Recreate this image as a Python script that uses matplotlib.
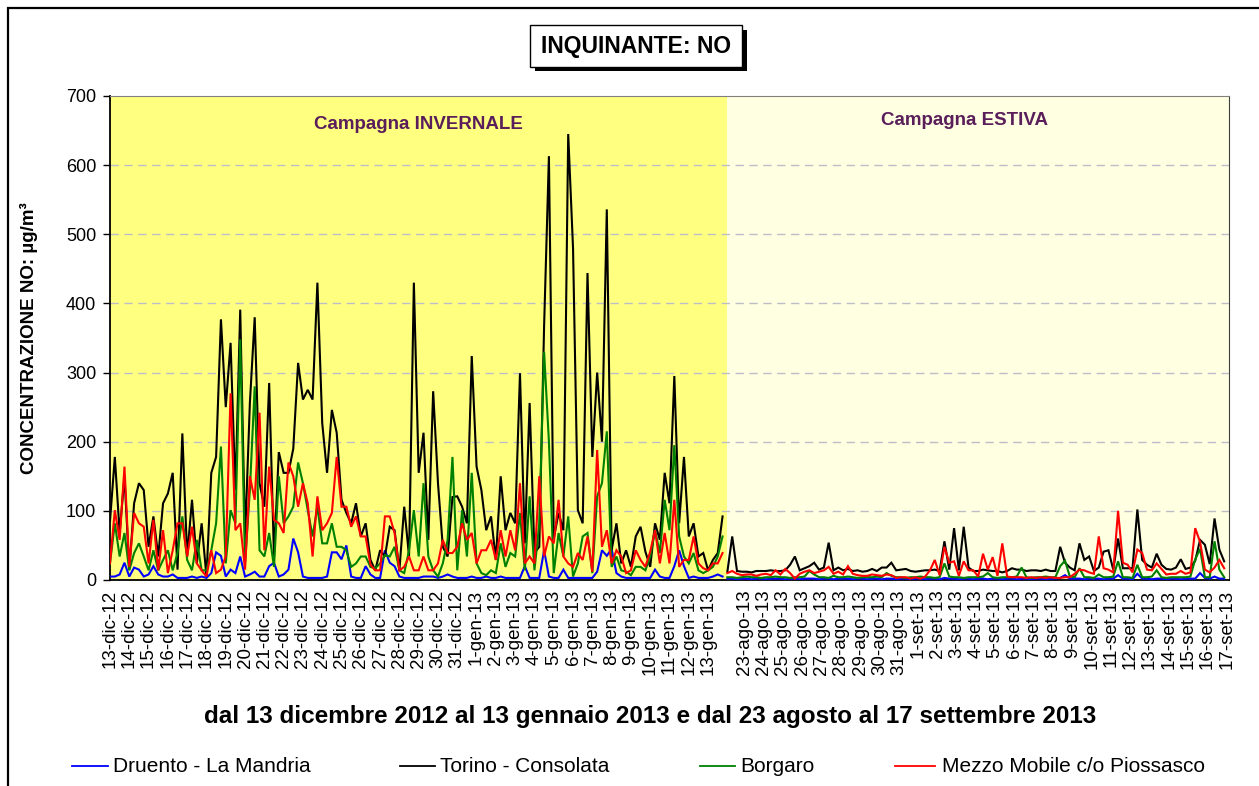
import numpy as np
import matplotlib
matplotlib.use('Agg')
import matplotlib.pyplot as plt
from matplotlib.patches import Rectangle
from matplotlib.lines import Line2D

# ---------------- data (NO, µg/m³, 6-hourly readings) ----------------
winter_days = (['%d-dic-12' % d for d in range(13, 32)] +
               ['%d-gen-13' % d for d in range(1, 14)])
summer_days = (['%d-ago-13' % d for d in range(23, 32)] +
               ['%d-set-13' % d for d in range(1, 18)])

series_names = ['Druento - La Mandria', 'Torino - Consolata', 'Borgaro',
                'Mezzo Mobile c/o Piossasco']
series_colors = ['#0000FF', '#000000', '#008000', '#FF0000']

druento_w = [5, 5, 8, 25, 5, 18, 15, 5, 8, 20, 8, 5, 5, 8, 3, 3, 3, 5, 3, 5, 3, 10, 40, 35, 5, 15, 10, 34, 5, 8, 12, 5,
             5, 20, 25, 5, 8, 15, 60, 40, 5, 3, 3, 3, 3, 5, 40, 40, 30, 50, 5, 3, 3, 20, 8, 3, 3, 43, 25, 20, 5, 3, 3, 3,
             3, 5, 5, 5, 3, 5, 8, 5, 3, 3, 3, 5, 3, 3, 5, 3, 3, 5, 3, 3, 3, 3, 20, 3, 3, 3, 43, 5, 3, 3, 15, 3,
             3, 3, 3, 3, 3, 12, 43, 35, 45, 10, 5, 3, 3, 3, 3, 3, 3, 15, 5, 3, 3, 20, 43, 20, 3, 5, 3, 3, 3, 5, 8, 5]
torino_w = [85, 178, 68, 150, 15, 111, 140, 130, 48, 92, 34, 111, 125, 155, 15, 212, 34, 116, 24, 82, 5, 155, 178, 377, 250, 343, 130, 391, 60, 256, 380, 140,
            106, 285, 34, 185, 155, 155, 190, 314, 261, 275, 261, 430, 227, 155, 246, 213, 116, 97, 82, 111, 63, 82, 29, 14, 43, 34, 77, 72, 14, 106, 34, 430,
            155, 213, 58, 273, 140, 48, 34, 120, 121, 106, 82, 324, 164, 130, 72, 92, 29, 150, 72, 97, 82, 299, 53, 256, 39, 48, 367, 613, 60, 97, 72, 645,
            480, 101, 82, 444, 178, 300, 200, 536, 43, 82, 24, 43, 19, 63, 77, 41, 19, 82, 58, 155, 111, 295, 82, 178, 63, 82, 34, 39, 14, 29, 39, 92]
borgaro_w = [24, 82, 34, 68, 14, 39, 53, 34, 14, 43, 14, 29, 43, 14, 39, 92, 29, 14, 58, 14, 14, 43, 82, 193, 24, 101, 82, 348, 24, 130, 280, 43,
             34, 68, 19, 150, 82, 92, 106, 170, 140, 101, 63, 106, 53, 53, 82, 48, 48, 43, 19, 24, 34, 34, 19, 17, 24, 36, 34, 48, 14, 10, 43, 101,
             34, 140, 34, 14, 5, 24, 58, 178, 14, 101, 34, 155, 24, 10, 7, 14, 10, 53, 19, 39, 34, 97, 14, 121, 14, 82, 330, 200, 10, 68, 34, 92,
             5, 24, 63, 68, 10, 121, 140, 215, 19, 34, 14, 12, 7, 19, 19, 14, 34, 72, 39, 116, 72, 195, 63, 34, 24, 39, 14, 10, 14, 19, 34, 63]
piossasco_w = [24, 101, 58, 164, 19, 97, 82, 77, 24, 87, 14, 72, 10, 43, 82, 82, 34, 77, 24, 14, 5, 43, 10, 15, 34, 270, 72, 82, 15, 150, 116, 242,
               43, 164, 87, 82, 68, 170, 150, 106, 140, 111, 34, 121, 72, 82, 97, 178, 106, 106, 77, 92, 63, 63, 22, 14, 14, 92, 92, 68, 14, 19, 34, 14,
               14, 34, 14, 14, 24, 58, 39, 39, 48, 82, 58, 68, 24, 43, 43, 58, 29, 72, 34, 72, 43, 140, 24, 34, 24, 150, 34, 63, 53, 116, 34, 24,
               19, 39, 29, 63, 12, 188, 48, 72, 24, 43, 34, 10, 14, 43, 29, 19, 41, 72, 24, 68, 24, 116, 19, 29, 29, 63, 24, 17, 14, 24, 24, 39]

druento_s = [2, 2, 1, 2, 2, 1, 2, 2, 1, 2, 2, 2, 1, 2, 2, 1, 2, 2, 2, 1, 2, 2, 1, 2, 2, 2, 1, 2, 2, 1, 2, 2, 1, 2, 2, 1,
             2, 2, 1, 2, 2, 1, 2, 2, 1, 3, 2, 2, 1, 2, 2, 1, 2, 2, 1, 2, 2, 1, 2, 2, 1, 2, 2, 1, 2, 2, 1, 2, 2, 3, 7, 2,
             2, 2, 1, 2, 2, 2, 1, 2, 2, 7, 2, 2, 1, 9, 2, 2, 1, 2, 2, 1, 2, 2, 1, 2, 2, 2, 10, 3, 2, 5, 2, 2]
torino_s = [12, 63, 13, 12, 12, 11, 13, 13, 13, 14, 13, 13, 14, 22, 34, 14, 17, 20, 25, 15, 18, 54, 14, 18, 14, 16, 13, 14, 12, 13, 16, 13, 18, 18, 25, 14,
            15, 16, 13, 12, 13, 14, 14, 15, 13, 56, 15, 75, 14, 77, 18, 13, 13, 15, 14, 13, 13, 11, 13, 17, 15, 15, 13, 14, 14, 13, 15, 13, 13, 48, 25, 18,
            14, 53, 29, 34, 13, 18, 41, 43, 15, 60, 17, 17, 17, 102, 29, 22, 18, 38, 22, 16, 15, 18, 30, 16, 18, 28, 58, 51, 23, 89, 44, 27]
borgaro_s = [4, 4, 3, 4, 5, 4, 4, 3, 4, 4, 5, 4, 4, 3, 4, 4, 5, 13, 8, 4, 4, 3, 6, 4, 4, 5, 4, 3, 4, 4, 4, 5, 4, 10, 6, 4,
             4, 3, 4, 4, 5, 4, 4, 3, 4, 24, 5, 4, 4, 3, 4, 4, 4, 5, 10, 4, 3, 4, 4, 4, 5, 18, 4, 3, 4, 4, 5, 4, 4, 20, 28, 5,
             4, 17, 4, 4, 3, 8, 4, 4, 5, 27, 4, 4, 3, 22, 4, 4, 5, 14, 4, 3, 4, 4, 4, 4, 5, 30, 45, 4, 4, 56, 15, 4]
piossasco_s = [10, 13, 9, 7, 8, 8, 6, 8, 9, 7, 14, 8, 16, 10, 2, 9, 12, 14, 10, 12, 14, 19, 9, 12, 8, 20, 9, 7, 6, 6, 8, 7, 6, 8, 7, 3,
               4, 4, 2, 4, 2, 5, 14, 29, 7, 48, 25, 27, 6, 27, 14, 14, 5, 38, 15, 33, 6, 53, 5, 4, 4, 4, 3, 4, 3, 4, 3, 4, 3, 3, 4, 4,
               9, 15, 14, 11, 9, 63, 17, 15, 11, 100, 25, 22, 11, 44, 39, 15, 14, 24, 16, 8, 9, 9, 13, 9, 11, 75, 55, 15, 11, 18, 29, 17]

winter_series = [druento_w, torino_w, borgaro_w, piossasco_w]
summer_series = [druento_s, torino_s, borgaro_s, piossasco_s]

samples_per_day = 4
n_winter_days = len(winter_days)
n_summer_days = len(summer_days)

# ---------------- figure ----------------
plt.rcParams['font.family'] = ['Liberation Sans', 'DejaVu Sans']
W, H = 1259, 786
fig = plt.figure(figsize=(W / 100, H / 100), dpi=100)
fig.patch.set_facecolor('white')


def fx(px):
    return px / W


def fy(py):
    return 1 - py / H


# outer chart border
fig.add_artist(Rectangle((fx(8), -0.05), 1.0, fy(8) + 0.05, transform=fig.transFigure,
                         fill=False, edgecolor='black', lw=1.6))

ax = fig.add_axes([fx(110), fy(580), fx(1229) - fx(110), fy(96) - fy(580)])
total_days = n_winter_days + n_summer_days
ax.set_xlim(0, total_days)
ax.set_ylim(0, 700)
ax.axvspan(0, n_winter_days, color='#FFFF80', lw=0, zorder=0)
ax.axvspan(n_winter_days, total_days, color='#FFFFE1', lw=0, zorder=0)

for yv in range(100, 700, 100):
    ax.axhline(yv, color='#BDBDC8', lw=1.0, ls=(0, (6, 4)), zorder=1)

xw = np.arange(len(torino_w)) / samples_per_day
xs = n_winter_days + np.arange(len(torino_s)) / samples_per_day
for vals_w, vals_s, col in zip(winter_series, summer_series, series_colors):
    ax.plot(xw, vals_w, color=col, lw=1.5, zorder=3, solid_joinstyle='miter')
    ax.plot(xs, vals_s, color=col, lw=1.5, zorder=3, solid_joinstyle='miter')

# ticks
ax.set_yticks(range(0, 701, 100))
ax.tick_params(axis='y', labelsize=13, length=5, width=1, pad=5, direction='out')
tick_pos = list(np.arange(n_winter_days)) + list(n_winter_days + 0.88 + np.arange(n_summer_days))
ax.set_xticks(tick_pos)
ax.set_xticklabels(winter_days + summer_days, rotation=90, fontsize=13.5)
ax.tick_params(axis='x', length=0, pad=7)

for s in ['left', 'bottom']:
    ax.spines[s].set_color('black')
    ax.spines[s].set_linewidth(1.3)
ax.spines['top'].set_color('#808080')
ax.spines['right'].set_color('#404040')

ax.set_ylabel('CONCENTRAZIONE NO: µg/m³', fontsize=13.5, fontweight='bold')
ax.yaxis.set_label_coords((38 - 110) / 1119, 0.5)

ax.text(n_winter_days / 2, 659, 'Campagna INVERNALE', ha='center', va='center',
        fontsize=13.5, fontweight='bold', color='#5A1E5A', zorder=4)
ax.text(44.3, 664, 'Campagna ESTIVA', ha='center', va='center',
        fontsize=13.5, fontweight='bold', color='#5A1E5A', zorder=4)

# title box with shadow
fig.add_artist(Rectangle((fx(535), fy(71)), fx(747) - fx(535), fy(30) - fy(71),
                         transform=fig.transFigure, facecolor='black', edgecolor='black', lw=0))
fig.add_artist(Rectangle((fx(530), fy(67)), fx(742) - fx(530), fy(25) - fy(67),
                         transform=fig.transFigure, facecolor='white', edgecolor='black', lw=1.0))
fig.text(fx(636), fy(46), 'INQUINANTE: NO', ha='center', va='center',
         fontsize=16.5, fontweight='bold')

fig.text(fx(650), fy(717), 'dal 13 dicembre 2012 al 13 gennaio 2013 e dal 23 agosto al 17 settembre 2013',
         ha='center', va='center', fontsize=17.5, fontweight='bold')

# legend
leg_lines = [(72, 108), (400, 435), (700, 735), (895, 935)]
leg_text_x = [113, 440, 740, 942]
for (x0, x1), tx, name, col in zip(leg_lines, leg_text_x, series_names, series_colors):
    fig.add_artist(Line2D([fx(x0), fx(x1)], [fy(766), fy(766)], transform=fig.transFigure,
                          color=col, lw=1.3))
    fig.text(fx(tx), fy(766), name, ha='left', va='center', fontsize=15)

fig.savefig('out.png', dpi=100)
